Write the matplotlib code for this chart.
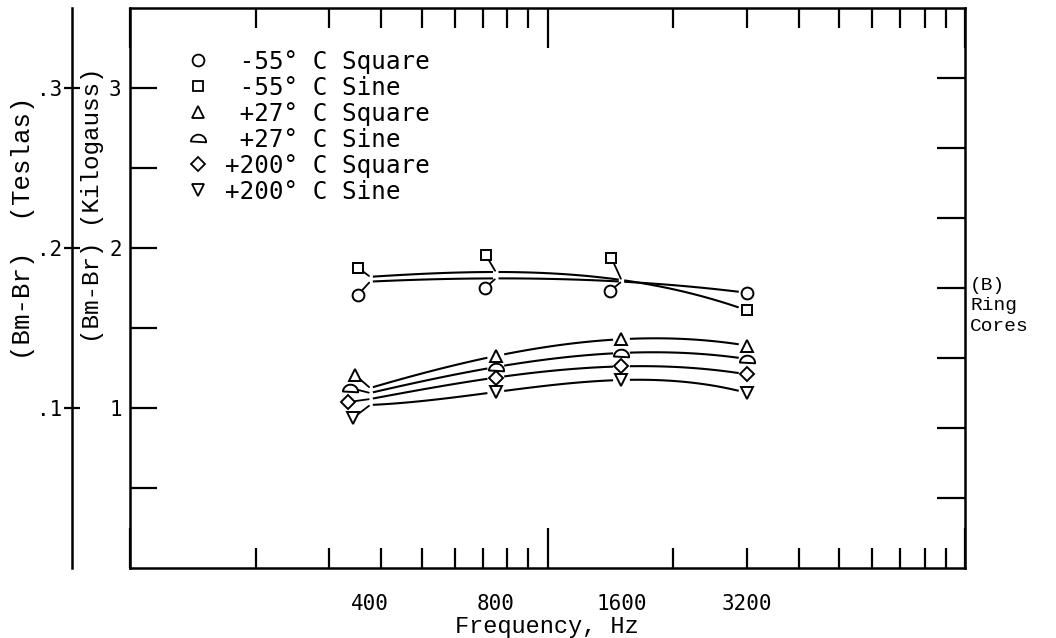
import numpy as np
import matplotlib
matplotlib.use("Agg")
import matplotlib.pyplot as plt
from matplotlib.path import Path
from matplotlib.lines import Line2D
from matplotlib.transforms import offset_copy
from matplotlib.ticker import FixedLocator, FixedFormatter, NullFormatter, NullLocator

freqs = [400, 800, 1600, 3200]
freq_labels = ["400", "800", "1600", "3200"]

labels = [" -55° C Square", " -55° C Sine", " +27° C Square",
          " +27° C Sine", "+200° C Square", "+200° C Sine"]

# (Bm-Br) in kilogauss
m55_square = [1.79, 1.81, 1.79, 1.72]
m55_sine = [1.82, 1.85, 1.80, 1.61]
p27_square = [1.125, 1.325, 1.43, 1.39]
p27_sine = [1.094, 1.256, 1.344, 1.306]
p200_square = [1.056, 1.19, 1.26, 1.21]
p200_sine = [1.019, 1.10, 1.175, 1.094]

series = [m55_square, m55_sine, p27_square, p27_sine, p200_square, p200_sine]

# half-round symbol, flat side down
theta = np.linspace(0, np.pi, 30)
half_disc = Path(np.column_stack([np.cos(theta), np.sin(theta) - 0.5]), closed=True)

styles = [
    dict(marker="o", ms=8.5),
    dict(marker="s", ms=7),
    dict(marker="^", ms=9),
    dict(marker=half_disc, ms=11),
    dict(marker="D", ms=7),
    dict(marker="v", ms=9),
]

# symbols pushed off crowded points (pixels), joined back by a short leader
shifts = [
    [(-12, -13), (-11, -10), (-11, -9), None],
    [(-12, 9), (-10, 17), (-10, 22), None],
    [(-15, 13), None, None, None],
    [(-20, 5), None, None, None],
    [(-22, -3), None, None, None],
    [(-17, -13), None, None, None],
]

mono = "DejaVu Sans Mono"
typewriter = "Liberation Mono"

fig = plt.figure(figsize=(10.56, 6.38), dpi=100)
ax = fig.add_axes([130 / 1056, 70 / 638, 835 / 1056, 560 / 638])
ax.set_xscale("log")

# two-cycle semi-log paper, cycles start at the left frame edge
cycle_start = 106.4
ax.set_xlim(cycle_start, cycle_start * 100)
ax.set_ylim(0, 3.5)

for sp in ax.spines.values():
    sp.set_linewidth(1.8)

ax.xaxis.set_major_locator(FixedLocator([cycle_start * 10 ** k for k in range(3)]))
ax.xaxis.set_minor_locator(FixedLocator([cycle_start * m * 10 ** k
                                         for k in (0, 1) for m in range(2, 10)]))
ax.xaxis.set_major_formatter(NullFormatter())
ax.xaxis.set_minor_formatter(NullFormatter())
ax.tick_params(axis="x", which="major", direction="in", length=29, width=1.6, top=True)
ax.tick_params(axis="x", which="minor", direction="in", length=14.5, width=1.6, top=True)

ax.yaxis.set_major_locator(FixedLocator([1, 2, 3]))
ax.yaxis.set_minor_locator(FixedLocator([0.5, 1.5, 2.5]))
ax.tick_params(axis="y", which="both", direction="in", length=19.5, width=1.6, pad=6,
               labelsize=15)
for t in ax.get_yticklabels():
    t.set_family(mono)

# right edge ticks
ax_r = ax.twinx()
ax_r.set_ylim(0, 8)
ax_r.yaxis.set_major_locator(FixedLocator(range(1, 8)))
ax_r.tick_params(axis="y", direction="in", length=20, width=1.6, labelright=False)
for sp in ax_r.spines.values():
    sp.set_visible(False)

# tesla scale on its own line
ax_t = ax.twinx()
ax_t.set_ylim(0, 0.35)
ax_t.yaxis.tick_left()
for name, sp in ax_t.spines.items():
    sp.set_visible(name == "left")
ax_t.spines["left"].set_position(("outward", 41.8))
ax_t.spines["left"].set_linewidth(1.8)
ax_t.yaxis.set_major_locator(FixedLocator([0.1, 0.2, 0.3]))
ax_t.yaxis.set_major_formatter(FixedFormatter([".1", ".2", ".3"]))
ax_t.tick_params(axis="y", direction="inout", length=11.5, width=1.6, pad=1, labelsize=15)
for t in ax_t.get_yticklabels():
    t.set_family(mono)

# frequency labels under the test points
sec = ax.secondary_xaxis("bottom")
sec.set_xticks(freqs, labels=freq_labels)
sec.xaxis.set_minor_locator(NullLocator())
sec.tick_params(axis="x", which="both", length=0, pad=19, labelsize=15)
sec.spines["bottom"].set_visible(False)
for t in sec.get_xticklabels():
    t.set_family(mono)

# curves
u = np.log2(np.array(freqs) / freqs[0])
for vals, st, offs in zip(series, styles, shifts):
    coef = np.polyfit(u, vals, 3)
    gaps = [0.03 if o else 0.075 for o in offs]
    for i in range(len(freqs) - 1):
        uu = np.linspace(u[i] + gaps[i], u[i + 1] - gaps[i + 1], 60)
        ax.plot(freqs[0] * 2 ** uu, np.polyval(coef, uu), color="black", lw=1.5)
    for f, v, o in zip(freqs, vals, offs):
        if o is None:
            ax.plot(f, v, ls="none", mfc="white", mec="black", mew=1.4, zorder=3, **st)
        else:
            dx, dy = o
            ax.annotate("", xy=(f, v), xytext=(dx, dy), textcoords="offset pixels",
                        arrowprops=dict(arrowstyle="-", lw=1.3, color="black",
                                        shrinkA=4, shrinkB=1))
            ax.plot(f, v, ls="none", mfc="white", mec="black", mew=1.4, zorder=3,
                    transform=offset_copy(ax.transData, fig=fig, x=dx, y=dy, units="dots"),
                    **st)

handles = [Line2D([], [], ls="none", mfc="white", mec="black", mew=1.3, **st) for st in styles]
ax.legend(handles, labels, loc="upper left", bbox_to_anchor=(0.067, 0.925), frameon=False,
          borderpad=0, borderaxespad=0, handlelength=1.0, handletextpad=0.6,
          labelspacing=0.08, prop={"family": mono, "size": 17.5})

fig.text(547 / 1056, 1 - 633 / 638, "Frequency, Hz", ha="center", va="baseline",
         family=typewriter, size=17)
fig.text(23 / 1056, 1 - 228 / 638, "(Bm-Br)  (Teslas)", rotation=90, ha="center",
         va="center", family=typewriter, size=18.5)
fig.text(93 / 1056, 1 - 205 / 638, "(Bm-Br) (Kilogauss)", rotation=90, ha="center",
         va="center", family=typewriter, size=17.5)
fig.text(970 / 1056, 1 - 306 / 638, "(B)\nRing\nCores", ha="left", va="center",
         family=typewriter, size=14, linespacing=1.25)

fig.savefig("out.png", dpi=100)
